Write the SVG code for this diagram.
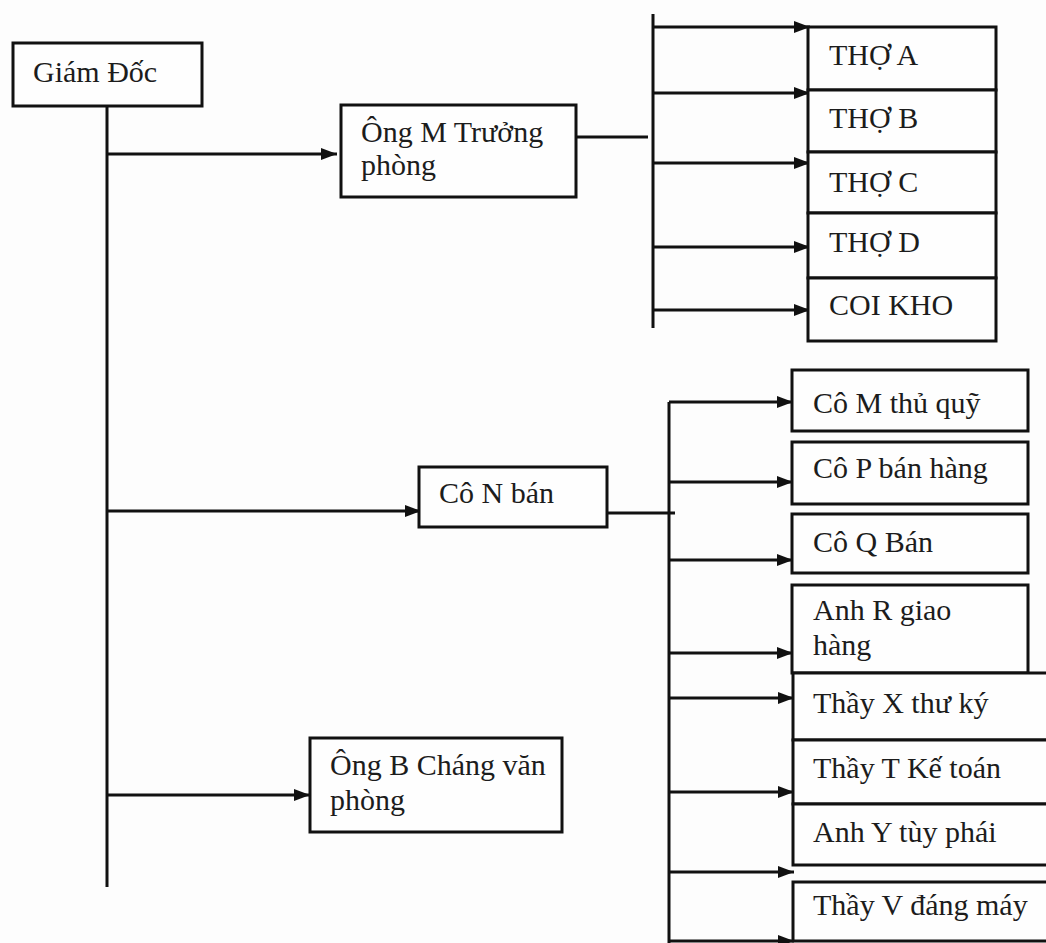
<svg xmlns="http://www.w3.org/2000/svg" width="1046" height="943" viewBox="0 0 1046 943">
<style>
.box{fill:#fefefe;stroke:#111;stroke-width:3}
.open{fill:#fefefe;stroke:#111;stroke-width:3}
.ln{fill:none;stroke:#111;stroke-width:3}
.arr{fill:none;stroke:#111;stroke-width:3;marker-end:url(#ah)}
text{font-family:"Liberation Serif","DejaVu Serif","Times New Roman",serif;font-size:30px;fill:#1c1c1c}
</style>
<defs>
<marker id="ah" viewBox="0 0 16 12" refX="16" refY="6" markerWidth="16" markerHeight="12" markerUnits="userSpaceOnUse" orient="auto">
<path d="M0,0 L16,6 L0,12 z" fill="#111"/>
</marker>
</defs>
<rect width="1046" height="943" fill="#fdfdfd"/>
<g id="connectors">
<path class="ln" d="M107,106 V887"/>
<path class="arr" d="M107,154 H337"/>
<path class="arr" d="M107,511 H421"/>
<path class="arr" d="M107,795 H310"/>
<path class="ln" d="M576,137 H648"/>
<path class="ln" d="M653,14 V328"/>
<path class="arr" d="M653,27 H810"/>
<path class="arr" d="M653,93 H810"/>
<path class="arr" d="M653,163 H810"/>
<path class="arr" d="M653,247 H810"/>
<path class="arr" d="M653,310 H810"/>
<path class="ln" d="M607,513 H675"/>
<path class="ln" d="M669,402 V943"/>
<path class="arr" d="M669,402 H793"/>
<path class="arr" d="M669,482 H793"/>
<path class="arr" d="M669,560 H793"/>
<path class="arr" d="M669,653 H793"/>
<path class="arr" d="M669,698 H794"/>
<path class="arr" d="M669,792 H794"/>
<path class="arr" d="M669,872 H794"/>
<path class="arr" d="M669,941 H794"/>
</g>
<g id="giamdoc"><rect class="box" x="13" y="43" width="189" height="63"/><text x="33" y="82">Giám Đốc</text></g>
<g id="ongM"><rect class="box" x="341" y="105" width="235" height="92"/><text x="361" y="142">Ông M Trưởng</text><text x="361" y="175">phòng</text></g>
<g id="thoA"><rect class="box" x="808" y="27" width="188" height="63"/><text x="829" y="65">THỢ A</text></g>
<g id="thoB"><rect class="box" x="808" y="90" width="188" height="62"/><text x="829" y="128">THỢ B</text></g>
<g id="thoC"><rect class="box" x="808" y="152" width="188" height="61"/><text x="829" y="192">THỢ C</text></g>
<g id="thoD"><rect class="box" x="808" y="213" width="188" height="65"/><text x="829" y="252">THỢ D</text></g>
<g id="coikho"><rect class="box" x="808" y="278" width="188" height="63"/><text x="829" y="315">COI KHO</text></g>
<g id="coN"><rect class="box" x="419" y="467" width="188" height="60"/><text x="439" y="503">Cô N bán</text></g>
<g id="ongB"><rect class="box" x="310" y="738" width="252" height="94"/><text x="330" y="775">Ông B Cháng văn</text><text x="330" y="810">phòng</text></g>
<g id="coM"><rect class="box" x="792" y="370" width="236" height="61"/><text x="813" y="413">Cô M thủ quỹ</text></g>
<g id="coP"><rect class="box" x="792" y="442" width="236" height="62"/><text x="813" y="478">Cô P bán hàng</text></g>
<g id="coQ"><rect class="box" x="792" y="514" width="236" height="59"/><text x="813" y="552">Cô Q Bán</text></g>
<g id="anhR"><rect class="box" x="792" y="585" width="236" height="88"/><text x="813" y="620">Anh R giao</text><text x="813" y="655">hàng</text></g>
<g id="thayX"><path class="open" d="M1046,673 H793 V740 H1046"/><text x="813" y="713">Thầy X thư ký</text></g>
<g id="thayT"><path class="open" d="M1046,740 H793 V804 H1046"/><text x="813" y="778">Thầy T Kế toán</text></g>
<g id="anhY"><path class="open" d="M1046,804 H793 V865 H1046"/><text x="813" y="842">Anh Y tùy phái</text></g>
<g id="thayV"><path class="open" d="M1046,882 H793 V941 H1046"/><text x="813" y="915">Thầy V đáng máy</text></g>
</svg>
